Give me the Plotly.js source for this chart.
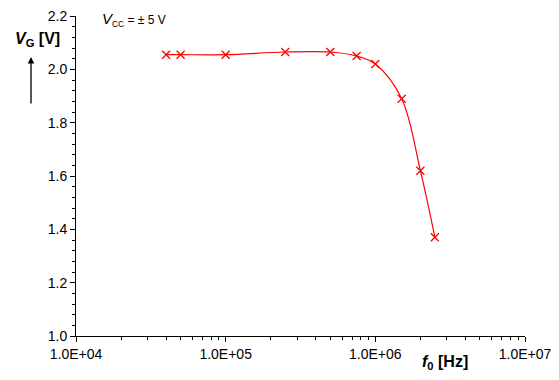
<!DOCTYPE html>
<html>
<head>
<meta charset="utf-8">
<script src="https://cdn.plot.ly/plotly-3.0.1.min.js"></script>
<style>html,body{margin:0;padding:0;background:#fff;}#chart{width:559px;height:380px;}</style>
</head>
<body>
<div id="chart"></div>
<script>
const freqHz = [4e4, 5e4, 1e5, 2.5e5, 5e5, 7.5e5, 1e6, 1.5e6, 2e6, 2.5e6];
const vG = [2.055, 2.055, 2.055, 2.065, 2.065, 2.05, 2.02, 1.89, 1.62, 1.37];
const xTickVals = [1e4, 1e5, 1e6, 1e7];
const xTickText = ['1.0E+04', '1.0E+05', '1.0E+06', '1.0E+07'];
const yTickVals = [1.0, 1.2, 1.4, 1.6, 1.8, 2.0, 2.2];
const yTickText = ['1.0', '1.2', '1.4', '1.6', '1.8', '2.0', '2.2'];

const trace = {
  x: freqHz, y: vG, type: 'scatter', mode: 'lines+markers',
  line: {color: '#ff0000', width: 1.2, shape: 'spline', smoothing: 1},
  marker: {symbol: 'x-thin-open', size: 8, color: '#ff0000', line: {color: '#ff0000', width: 1.3}},
  showlegend: false, cliponaxis: false
};

const fnt = 'Liberation Sans, Arial, sans-serif';
const layout = {
  width: 559, height: 380,
  margin: {l: 76, r: 34, t: 16, b: 44},
  paper_bgcolor: '#fff', plot_bgcolor: '#fff',
  font: {family: fnt, size: 14, color: '#000'},
  xaxis: {
    type: 'log', range: [4, 7],
    tickmode: 'array', tickvals: xTickVals, ticktext: xTickText,
    ticks: 'outside', ticklen: 5, tickwidth: 1, tickcolor: '#000',
    showline: true, linecolor: '#000', linewidth: 1,
    showgrid: false, zeroline: false,
    tickfont: {family: fnt, size: 14},
    minor: {ticks: 'outside', ticklen: 3, tickwidth: 1, tickcolor: '#000', dtick: 'D1', showgrid: false}
  },
  yaxis: {
    range: [1.0, 2.2],
    tickmode: 'array', tickvals: yTickVals, ticktext: yTickText,
    ticks: 'outside', ticklen: 5, tickwidth: 1, tickcolor: '#000',
    showline: true, linecolor: '#000', linewidth: 1,
    showgrid: false, zeroline: false,
    tickfont: {family: fnt, size: 14},
    minor: {ticks: 'outside', ticklen: 3, tickwidth: 1, tickcolor: '#000', dtick: 0.04, showgrid: false}
  },
  annotations: [
    {xref: 'paper', yref: 'paper', x: -0.085, y: 0.925, xanchor: 'center', yanchor: 'middle',
     showarrow: false, text: '<b><i>V</i><sub>G</sub> [V]</b>', font: {family: fnt, size: 16}},
    {xref: 'paper', yref: 'paper', x: -0.1002, y: 0.872, showarrow: true, text: '',
     axref: 'pixel', ayref: 'pixel', ax: 0, ay: 48, arrowhead: 2, arrowsize: 1, arrowwidth: 1.3, arrowcolor: '#000'},
    {xref: 'paper', yref: 'paper', x: 0.0535, y: 0.99, xanchor: 'left', yanchor: 'middle',
     showarrow: false, text: '<span style="font-size:15px"><i>V</i></span><sub>CC</sub> = ± 5 V', font: {family: fnt, size: 12}},
    {xref: 'paper', yref: 'paper', x: 0.822, y: -0.084, xanchor: 'center', yanchor: 'middle',
     showarrow: false, text: '<b><i>f</i><sub>0</sub> [Hz]</b>', font: {family: fnt, size: 16}}
  ]
};

Plotly.newPlot('chart', [trace], layout, {displayModeBar: false, staticPlot: true});
</script>
</body>
</html>
